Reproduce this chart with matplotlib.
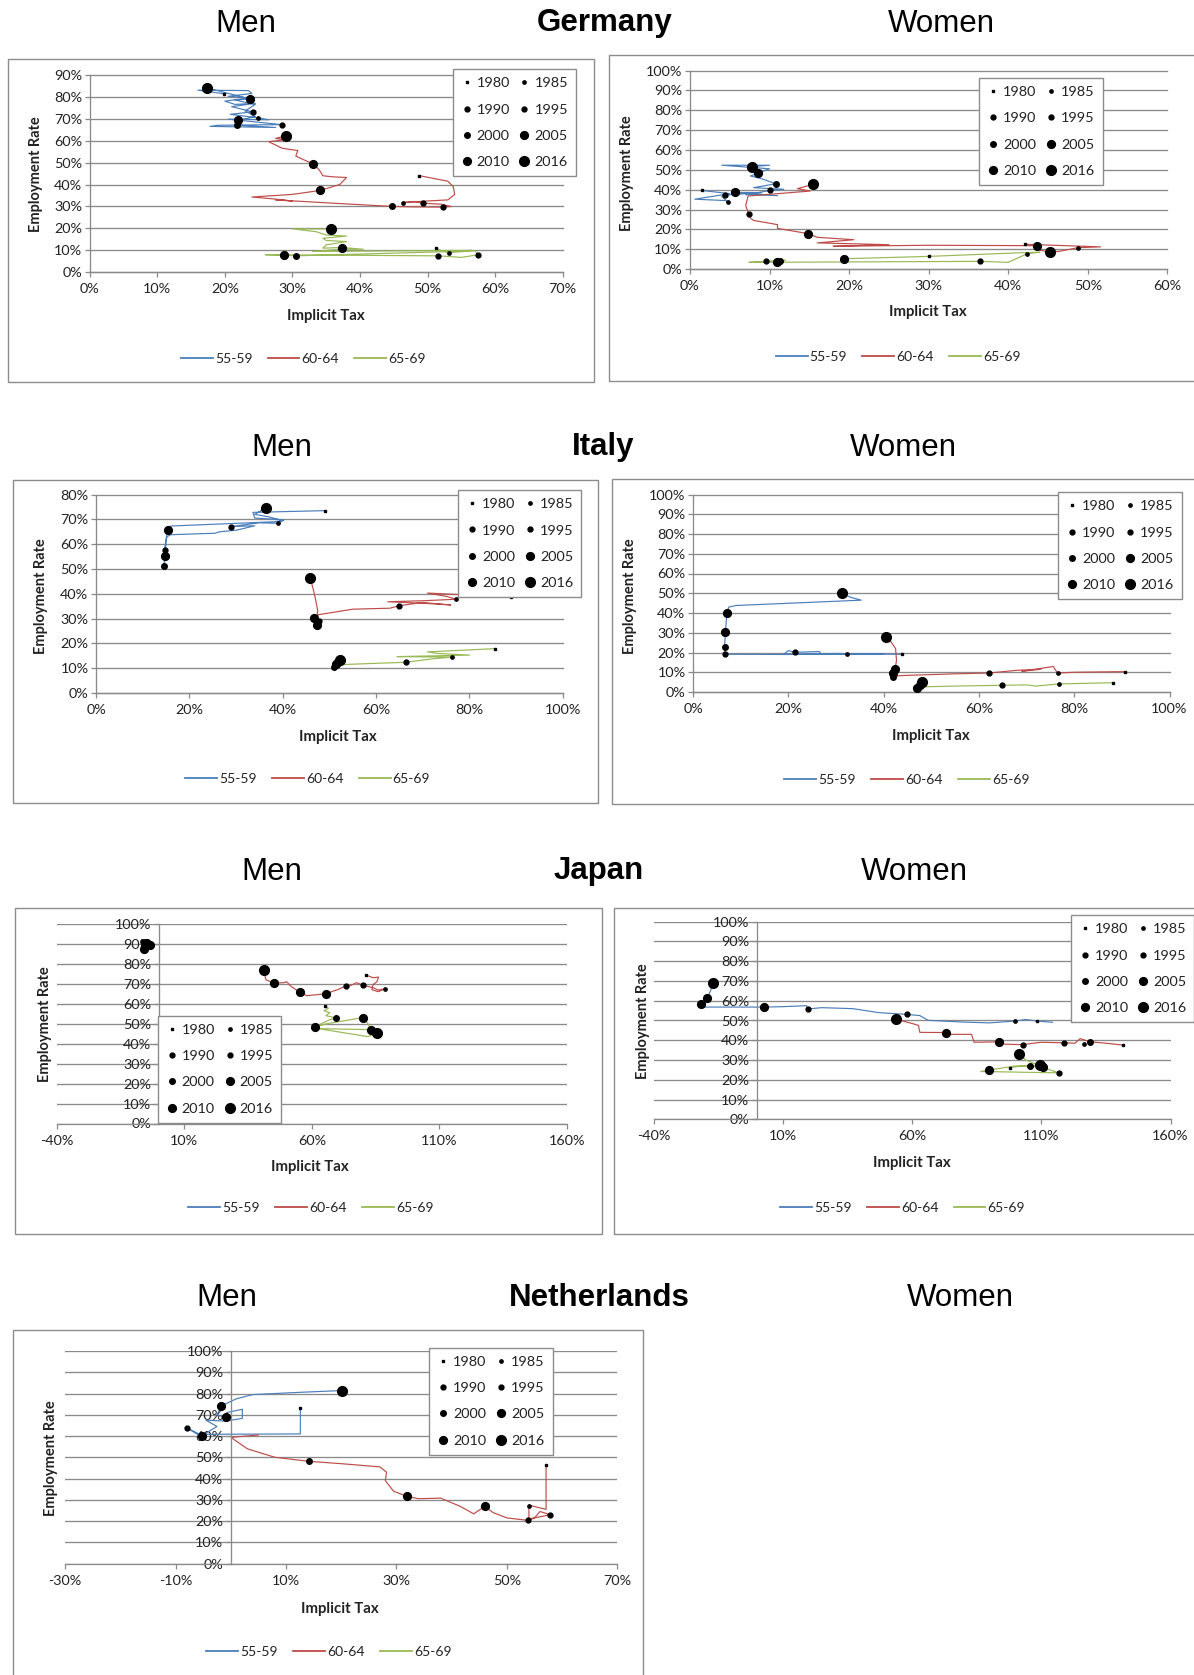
import numpy as np
import matplotlib
matplotlib.use("Agg")
import matplotlib.pyplot as plt
from matplotlib.lines import Line2D
from matplotlib.patches import Rectangle

# ---------------------------------------------------------------------------
# Data: implicit tax on continued work (x, %) vs employment rate (y, %).
# Each series is a trajectory over time plus dots marking selected years.
# ---------------------------------------------------------------------------
YEARS = [1980, 1985, 1990, 1995, 2000, 2005, 2010, 2016]
AGE_GROUPS = ["55-59", "60-64", "65-69"]

# Germany, men
de_m_5559 = [(19.8, 81.4), (16.0, 83.0), (23.5, 82.8), (24.0, 81.5), (20.5, 80.2), (23.5, 79.5),
             (20.0, 78.0), (21.5, 76.5), (24.5, 77.0), (21.0, 75.5), (24.1, 73.1), (20.8, 72.0),
             (24.9, 70.4), (26.5, 69.5), (20.5, 69.8), (28.4, 67.3), (19.0, 67.0), (17.8, 66.5),
             (27.5, 66.0), (21.8, 67.1), (22.0, 69.2), (24.5, 71.0), (23.0, 73.5), (24.5, 76.5),
             (21.5, 78.5), (23.7, 79.0), (17.4, 84.0)]
de_m_5559_yrs = [(1980, 19.8, 81.4), (1985, 24.9, 70.4), (1990, 24.1, 73.1), (1995, 28.4, 67.3),
                 (2000, 21.8, 67.1), (2005, 22.0, 69.2), (2010, 23.7, 79.0), (2016, 17.4, 84.0)]
de_m_6064 = [(48.7, 44.1), (50.5, 43.0), (53.0, 41.5), (53.8, 39.0), (54.0, 35.5), (53.0, 33.0),
             (50.0, 32.5), (46.4, 31.8), (48.0, 32.2), (49.3, 31.5), (52.0, 31.0), (53.5, 30.0),
             (52.3, 29.7), (48.0, 29.8), (44.8, 30.0), (36.0, 31.5), (27.5, 33.0), (30.0, 32.5),
             (27.0, 33.5), (24.0, 34.3), (30.0, 35.5), (34.1, 37.3), (37.0, 40.0), (38.0, 43.2),
             (36.0, 43.5), (34.5, 44.0), (34.0, 46.5), (33.1, 49.4), (31.5, 51.5), (30.5, 53.0),
             (30.8, 55.5), (28.5, 56.5), (27.5, 58.0), (26.5, 59.5), (29.0, 60.5), (27.5, 61.0),
             (29.0, 62.2)]
de_m_6064_yrs = [(1980, 48.7, 44.1), (1985, 46.4, 31.8), (1990, 49.3, 31.5), (1995, 52.3, 29.7),
                 (2000, 44.8, 30.0), (2005, 34.1, 37.3), (2010, 33.1, 49.4), (2016, 29.0, 62.2)]
de_m_6569 = [(51.2, 11.0), (52.0, 10.0), (53.1, 9.0), (57.0, 9.8), (57.5, 8.0), (55.0, 6.8),
             (51.6, 7.5), (26.0, 8.0), (28.8, 7.8), (30.5, 7.5), (54.0, 9.5), (56.5, 10.0),
             (33.0, 9.5), (37.0, 10.5), (40.5, 10.5), (37.3, 11.3), (34.5, 11.0), (35.0, 12.5),
             (38.0, 14.0), (35.0, 14.5), (34.5, 15.5), (38.0, 16.5), (35.0, 17.0), (33.5, 18.5),
             (30.0, 19.8), (35.7, 19.7)]
de_m_6569_yrs = [(1980, 51.2, 11.0), (1985, 53.1, 9.0), (1990, 57.5, 8.0), (1995, 51.6, 7.5),
                 (2000, 30.5, 7.5), (2005, 28.8, 7.8), (2010, 37.3, 11.3), (2016, 35.7, 19.7)]

# Germany, women
de_w_5559 = [(1.45, 39.6), (5.0, 38.0), (0.6, 35.2), (4.5, 34.5), (4.8, 33.7), (4.0, 36.5),
             (4.4, 37.3), (9.0, 38.5), (5.7, 38.6), (11.0, 37.0), (7.0, 37.5), (10.1, 39.6),
             (11.8, 40.2), (8.0, 41.0), (10.8, 43.0), (9.0, 45.5), (7.6, 46.9), (8.5, 48.2),
             (10.0, 50.5), (4.0, 52.3), (10.0, 52.3), (7.8, 51.6)]
de_w_5559_yrs = [(1980, 1.45, 39.6), (1985, 4.8, 33.7), (1990, 4.4, 37.3), (1995, 10.1, 39.6),
                 (2000, 10.8, 43.0), (2005, 5.7, 38.6), (2010, 8.5, 48.2), (2016, 7.8, 51.6)]
de_w_6064 = [(42.1, 12.5), (51.6, 11.2), (48.8, 10.8), (46.5, 9.0), (45.3, 8.6), (44.0, 9.5),
             (43.6, 11.8), (30.0, 12.0), (18.0, 11.5), (25.0, 12.3), (16.0, 13.2), (20.6, 14.8),
             (16.0, 16.0), (14.8, 17.9), (11.0, 20.5), (11.0, 22.4), (8.0, 24.5), (7.5, 26.0),
             (7.4, 27.5), (7.0, 32.0), (7.3, 36.8), (15.1, 39.3), (13.5, 40.5), (15.5, 42.7)]
de_w_6064_yrs = [(1980, 42.1, 12.5), (1985, 48.8, 10.8), (1995, 7.4, 27.5), (2005, 14.8, 17.9),
                 (2010, 43.6, 11.8), (2016, 45.3, 8.6), (2016, 15.5, 42.7)]
de_w_6569 = [(19.3, 5.2), (30.0, 6.4), (42.0, 8.3), (44.0, 8.5), (42.4, 7.8), (40.0, 3.4),
             (36.5, 3.9), (7.4, 3.4), (9.6, 4.0), (12.0, 4.4), (11.3, 4.2), (10.9, 3.5)]
de_w_6569_yrs = [(1980, 30.0, 6.4), (1985, 42.4, 7.8), (1990, 36.5, 3.9), (1995, 9.6, 4.0),
                 (2000, 11.3, 4.2), (2005, 10.9, 3.5), (2010, 19.3, 5.2)]

# Italy, men
it_m_5559 = [(49.1, 73.5), (33.6, 72.8), (34.0, 70.5), (40.3, 69.8), (39.0, 68.4), (35.0, 68.6),
             (28.9, 67.1), (34.0, 67.4), (30.0, 65.6), (26.5, 65.0), (25.5, 64.4), (16.0, 63.8),
             (15.2, 63.0), (14.8, 60.0), (14.7, 57.8), (14.6, 51.2), (14.8, 55.2), (15.0, 62.0),
             (15.3, 65.5), (16.0, 67.3), (38.0, 69.0), (40.0, 69.5), (37.0, 71.0), (34.0, 72.0),
             (36.4, 74.7)]
it_m_5559_yrs = [(1980, 49.1, 73.5), (1985, 39.0, 68.4), (1990, 28.9, 67.1), (1995, 14.7, 57.8),
                 (2000, 14.6, 51.2), (2005, 14.8, 55.2), (2010, 15.3, 65.5), (2016, 36.4, 74.7)]
it_m_6064 = [(88.9, 38.7), (80.0, 39.5), (71.0, 40.3), (75.0, 39.0), (77.1, 37.8), (70.0, 37.2),
             (62.5, 36.8), (72.0, 36.0), (76.0, 35.5), (70.0, 36.5), (64.9, 35.2), (63.0, 34.2),
             (55.0, 33.8), (47.7, 31.6), (47.0, 30.5), (47.7, 29.2), (47.3, 27.3), (47.0, 28.5),
             (47.5, 33.0), (47.0, 38.0), (46.5, 42.0), (45.9, 46.4)]
it_m_6064_yrs = [(1980, 88.9, 38.7), (1985, 77.1, 37.8), (1990, 64.9, 35.2), (1995, 47.7, 29.2),
                 (2005, 46.7, 30.2), (2010, 47.3, 27.3), (2016, 45.9, 46.4)]
it_m_6569 = [(85.4, 17.9), (71.0, 16.6), (73.0, 16.0), (80.0, 15.3), (64.5, 14.7), (70.0, 14.6),
             (76.3, 14.5), (72.0, 13.8), (66.3, 12.4), (60.0, 12.0), (53.0, 11.5), (51.1, 10.8),
             (51.5, 12.1), (52.1, 13.0)]
it_m_6569_yrs = [(1980, 85.4, 17.9), (1985, 76.3, 14.5), (1990, 66.3, 12.4), (2000, 51.0, 10.5),
                 (2005, 51.5, 11.6), (2010, 51.9, 12.4), (2016, 52.3, 13.2)]

# Italy, women
it_w_5559 = [(43.8, 19.1), (32.3, 19.3), (27.0, 19.0), (26.5, 20.5), (21.3, 20.1), (20.0, 21.0),
             (19.0, 19.0), (30.0, 19.5), (40.0, 19.3), (20.0, 19.0), (6.7, 19.1), (6.6, 22.7),
             (6.8, 30.6), (7.1, 40.1), (7.5, 43.0), (9.0, 43.8), (35.3, 46.5), (33.0, 48.0),
             (31.3, 50.1)]
it_w_5559_yrs = [(1980, 43.8, 19.1), (1985, 32.3, 19.3), (1990, 21.3, 20.1), (1995, 6.7, 19.1),
                 (2000, 6.6, 22.7), (2005, 6.8, 30.6), (2010, 7.1, 40.1), (2016, 31.3, 50.1)]
it_w_6064 = [(90.7, 10.3), (80.0, 10.0), (76.5, 9.6), (75.6, 12.9), (69.0, 10.5), (73.0, 11.5),
             (68.0, 11.0), (62.1, 9.6), (55.0, 9.2), (43.5, 8.3), (41.9, 7.6), (42.0, 9.5),
             (42.4, 11.7), (42.7, 16.0), (42.5, 22.0), (41.5, 25.5), (40.5, 27.6)]
it_w_6064_yrs = [(1980, 90.7, 10.3), (1985, 76.5, 9.6), (1990, 62.1, 9.6), (2000, 41.9, 7.6),
                 (2005, 42.0, 9.5), (2010, 42.4, 11.7), (2016, 40.5, 27.6)]
it_w_6569 = [(88.1, 4.7), (76.9, 4.1), (72.0, 3.0), (70.0, 3.6), (64.9, 3.4), (55.0, 3.0),
             (48.0, 2.6), (47.0, 2.2), (47.6, 3.6), (48.1, 4.9)]
it_w_6569_yrs = [(1980, 88.1, 4.7), (1985, 76.9, 4.1), (1990, 64.9, 3.4), (2005, 47.0, 2.2),
                 (2010, 47.6, 3.6), (2016, 48.1, 4.9)]

# Japan, men
jp_m_5559 = [(-4.5, 90.0), (-6.0, 91.0), (-5.5, 88.5), (-4.0, 90.5), (-5.8, 87.5), (-3.5, 89.5),
             (-4.2, 88.7), (-5.0, 89.8)]
jp_m_5559_yrs = [(1980, -4.5, 90.0), (1990, -6.0, 91.0), (1995, -5.5, 88.5), (2000, -4.0, 90.5),
                 (2005, -5.8, 87.5), (2010, -3.5, 89.5), (2016, -5.0, 89.8)]
jp_m_6064 = [(81.4, 74.2), (84.0, 73.0), (86.1, 73.3), (85.5, 71.0), (84.0, 69.5), (83.5, 67.0),
             (86.0, 66.0), (88.7, 67.5), (86.0, 66.8), (84.0, 68.0), (80.2, 69.2), (77.5, 70.5),
             (75.0, 69.0), (73.3, 68.8), (70.0, 67.0), (65.5, 65.0), (62.0, 64.5), (58.0, 64.0),
             (55.4, 65.7), (52.0, 68.5), (50.1, 71.0), (49.0, 70.5), (45.1, 70.3), (42.0, 72.0),
             (41.1, 76.7)]
jp_m_6064_yrs = [(1980, 81.4, 74.2), (1985, 88.7, 67.5), (1990, 80.2, 69.2), (1995, 73.3, 68.8),
                 (2005, 65.5, 65.0), (2010, 55.4, 65.7), (2010, 45.1, 70.3), (2016, 41.1, 76.7)]
jp_m_6569 = [(65.1, 58.7), (66.5, 57.8), (64.8, 56.5), (67.0, 55.5), (65.5, 54.0), (69.6, 52.8),
             (67.0, 52.0), (61.1, 48.3), (66.0, 50.0), (79.9, 53.0), (82.0, 50.0), (83.1, 47.0),
             (62.5, 47.5), (82.0, 43.5), (85.4, 45.3)]
jp_m_6569_yrs = [(1980, 65.1, 58.7), (2000, 69.6, 52.8), (2005, 61.1, 48.3), (2010, 79.9, 53.0),
                 (2010, 83.1, 47.0), (2016, 85.4, 45.3)]

# Japan, women
jp_w_5559 = [(114.3, 49.1), (108.5, 49.7), (104.0, 50.5), (99.8, 49.7), (90.0, 48.8), (80.0, 49.2),
             (66.2, 50.1), (63.0, 52.5), (57.9, 53.1), (47.0, 54.0), (37.1, 56.0), (25.0, 56.5),
             (19.6, 55.8), (19.2, 57.5), (10.0, 57.0), (2.9, 56.8), (-20.9, 56.8), (-21.8, 58.2),
             (-19.2, 61.2), (-18.0, 65.0), (-16.9, 69.1)]
jp_w_5559_yrs = [(1980, 108.5, 49.7), (1985, 99.8, 49.7), (1990, 57.9, 53.1), (1995, 19.6, 55.8),
                 (2005, 2.9, 56.8), (2010, -21.8, 58.2), (2010, -19.2, 61.2), (2016, -16.9, 69.1)]
jp_w_6064 = [(141.5, 37.6), (135.0, 38.5), (129.0, 39.2), (125.0, 40.8), (123.0, 38.5),
             (118.6, 38.7), (110.0, 39.0), (102.8, 37.8), (96.0, 38.0), (93.8, 39.2), (84.0, 39.0),
             (83.0, 43.0), (75.0, 43.0), (73.0, 43.9), (63.0, 44.0), (62.5, 47.5), (60.0, 48.5),
             (53.9, 50.6)]
jp_w_6064_yrs = [(1980, 141.5, 37.6), (1985, 126.4, 38.3), (2000, 129.0, 39.2), (1995, 118.6, 38.7),
                 (1995, 102.8, 37.8), (2005, 93.8, 39.2), (2010, 73.0, 43.9), (2016, 53.9, 50.6)]
jp_w_6569 = [(97.8, 26.2), (104.0, 27.2), (110.0, 26.5), (116.7, 23.5), (86.6, 24.2), (89.7, 24.9),
             (100.0, 27.0), (105.7, 26.9), (109.5, 27.4), (110.5, 26.6), (104.0, 30.0),
             (101.4, 33.1)]
jp_w_6569_yrs = [(1980, 97.8, 26.2), (1990, 116.7, 23.5), (2000, 105.7, 26.9), (2005, 89.7, 24.9),
                 (2010, 110.5, 26.6), (2016, 109.5, 27.4), (2016, 101.4, 33.1)]

# Netherlands, men
nl_m_5559 = [(12.6, 73.0), (12.6, 61.0), (-6.0, 60.8), (-7.9, 63.75), (-5.2, 60.2), (-2.5, 64.5),
             (-4.5, 67.5), (-1.0, 67.0), (2.1, 68.3), (2.1, 72.6), (-0.8, 71.0), (-0.8, 68.75),
             (-2.5, 70.0), (-1.7, 74.2), (1.0, 77.5), (4.0, 79.5), (12.0, 80.5), (20.1, 81.4)]
nl_m_5559_yrs = [(1980, 12.6, 73.0), (1990, -7.9, 63.75), (2005, -5.2, 60.2), (2010, -0.8, 68.75),
                 (2010, -1.7, 74.2), (2016, 20.1, 81.4)]
nl_m_6064 = [(57.1, 46.4), (57.1, 25.5), (54.0, 27.5), (54.0, 26.9), (54.0, 21.0), (57.9, 23.0),
             (56.0, 24.5), (55.0, 21.5), (53.9, 20.3), (50.0, 21.5), (47.5, 24.0), (46.0, 26.9),
             (44.0, 23.4), (41.5, 27.0), (38.0, 30.8), (34.0, 30.5), (32.0, 31.6), (29.5, 34.0),
             (28.0, 39.0), (28.2, 43.0), (27.0, 45.5), (20.0, 47.0), (14.2, 48.1), (8.0, 50.0),
             (3.0, 54.0), (0.5, 58.5), (0.2, 59.4), (5.0, 60.5)]
nl_m_6064_yrs = [(1980, 57.1, 46.4), (1985, 54.0, 26.9), (1990, 57.9, 23.0), (1995, 53.9, 20.3),
                 (2000, 14.2, 48.1), (2005, 46.0, 26.9), (2010, 32.0, 31.6)]
nl_m_6569 = []
nl_m_6569_yrs = []

# ---------------------------------------------------------------------------
# Styling
# ---------------------------------------------------------------------------
plt.rcParams["font.family"] = ["Lato", "DejaVu Sans"]
W, H = 1194, 1675
SERIES_COLORS = ["#4a7ebb", "#be4b48", "#98b954"]
GRID = "#8a8a8a"
BORDER = "#8c8c8c"
TEXT = "#222222"
MARKER_SIZE = {1980: 1.7, 1985: 2.4, 1990: 3.5, 1995: 3.5, 2000: 4.0, 2005: 5.6, 2010: 5.6, 2016: 7.0}
MARKER_SHAPE = {1980: "s"}

fig = plt.figure(figsize=(W / 100, H / 100), dpi=100)
fig.patch.set_facecolor("white")


def fxy(x, y):
    return x / W, 1 - y / H


def draw_panel(box, rect, xlim, xstep, ymax, series, ylab_xy, xlab_xy, yrleg_xy, lineleg_xy,
               yaxis_at_zero=False):
    bx0, by0, bx1, by1 = box
    fig.patches.append(Rectangle((bx0 / W, 1 - by1 / H), (bx1 - bx0) / W, (by1 - by0) / H,
                                 transform=fig.transFigure, fill=False, edgecolor=BORDER,
                                 lw=1.0, zorder=0))
    x0, x1, yt, yb = rect
    ax = fig.add_axes([x0 / W, 1 - yb / H, (x1 - x0) / W, (yb - yt) / H])
    ax.set_facecolor("none")
    ax.set_xlim(*xlim)
    ax.set_ylim(0, ymax)
    xt = np.arange(xlim[0], xlim[1] + 0.01, xstep)
    ax.set_xticks(xt)
    ax.set_xticklabels([f"{v:g}%" for v in xt])
    ytk = np.arange(0, ymax + 0.01, 10)
    ax.set_yticks(ytk)
    ax.set_yticklabels([f"{v:g}%" for v in ytk])
    ax.grid(axis="y", color=GRID, lw=0.95)
    ax.grid(axis="x", visible=False)
    ax.set_axisbelow(True)
    for gl in ax.get_ygridlines():
        gl.set_clip_on(False)
    for s in ("top", "right"):
        ax.spines[s].set_visible(False)
    for s in ("left", "bottom"):
        ax.spines[s].set_color(GRID)
        ax.spines[s].set_linewidth(0.95)
    if yaxis_at_zero:
        ax.spines["left"].set_position(("data", 0))
    ax.tick_params(axis="both", direction="out", length=3.5, width=0.9, color=GRID,
                   labelsize=10.4, labelcolor=TEXT)
    ax.tick_params(axis="x", pad=4.5)
    ax.tick_params(axis="y", pad=2.0)

    for (path, yrs), color in zip(series, SERIES_COLORS):
        if path:
            xs, ys = zip(*path)
            ax.plot(xs, ys, color=color, lw=0.85, solid_joinstyle="round", zorder=2)
        for yr, x, y in yrs:
            ax.plot([x], [y], ls="", marker=MARKER_SHAPE.get(yr, "o"), ms=MARKER_SIZE[yr],
                    color="black", zorder=3)

    fig.text(*fxy(*ylab_xy), "Employment Rate", rotation=90, ha="center", va="center",
             fontsize=10.5, fontweight="bold", color=TEXT)
    fig.text(*fxy(*xlab_xy), "Implicit Tax", ha="center", va="center",
             fontsize=10.8, fontweight="bold", color=TEXT)

    order = [1980, 1990, 2000, 2010, 1985, 1995, 2005, 2016]
    yr_handles = [Line2D([], [], ls="", marker=MARKER_SHAPE.get(y, "o"), ms=MARKER_SIZE[y],
                         color="black") for y in order]
    leg = ax.legend(yr_handles, [str(y) for y in order], ncol=2, loc="upper left",
                    bbox_to_anchor=fxy(*yrleg_xy), bbox_transform=fig.transFigure,
                    borderaxespad=0, frameon=True, fancybox=False, edgecolor=BORDER,
                    framealpha=1, fontsize=10.4, handlelength=0.8, handletextpad=0.3,
                    columnspacing=0.6, labelspacing=0.98, borderpad=0.55)
    leg.get_frame().set_linewidth(1.0)
    for t in leg.get_texts():
        t.set_color(TEXT)
    leg.set_zorder(5)

    ln_handles = [Line2D([0], [0], color=c, lw=1.3) for c in SERIES_COLORS]
    lleg = fig.legend(ln_handles, AGE_GROUPS, loc="center", bbox_to_anchor=fxy(*lineleg_xy),
                      ncol=3, frameon=False, fontsize=10, handlelength=2.3,
                      handletextpad=0.15, columnspacing=1.1)
    for t in lleg.get_texts():
        t.set_color(TEXT)
    return ax


# Row titles
title_rows = [
    (23.5, "Germany", 245.6, 604.5, 941.0),
    (447.5, "Italy", 282.0, 603.4, 903.5),
    (871.5, "Japan", 272.3, 599.0, 914.0),
    (1297.6, "Netherlands", 226.4, 599.0, 960.0),
]
for y, country, xm, xc, xw in title_rows:
    fig.text(*fxy(xm, y), "Men", ha="center", va="center", fontsize=22.5,
             family="Liberation Sans")
    fig.text(*fxy(xc, y), country, ha="center", va="center", fontsize=22.5,
             family="Liberation Sans", fontweight="bold")
    fig.text(*fxy(xw, y), "Women", ha="center", va="center", fontsize=22.5,
             family="Liberation Sans")

# Germany
draw_panel((7.5, 58.7, 593.8, 382.3), (89.7, 562.8, 74.8, 272.3), (0, 70), 10, 90,
           [(de_m_5559, de_m_5559_yrs), (de_m_6064, de_m_6064_yrs), (de_m_6569, de_m_6569_yrs)],
           (36.3, 174), (325.7, 316.1), (452.8, 69.4), (303.3, 358.8))
draw_panel((608.8, 55.5, 1200, 381.3), (690.0, 1167.3, 70.5, 269.1), (0, 60), 10, 100,
           [(de_w_5559, de_w_5559_yrs), (de_w_6064, de_w_6064_yrs), (de_w_6569, de_w_6569_yrs)],
           (627, 173), (928, 311.9), (979.4, 78), (898.2, 356.7))
# Italy
draw_panel((12.8, 479.5, 598, 803.1), (96.1, 562.8, 494.5, 693.1), (0, 100), 20, 80,
           [(it_m_5559, it_m_5559_yrs), (it_m_6064, it_m_6064_yrs), (it_m_6569, it_m_6569_yrs)],
           (40.6, 596), (337.5, 737), (458.2, 490.2), (307.6, 778.6))
draw_panel((612, 479.5, 1200, 804.2), (693.1, 1169.5, 494.5, 692.0), (0, 100), 20, 100,
           [(it_w_5559, it_w_5559_yrs), (it_w_6064, it_w_6064_yrs), (it_w_6569, it_w_6569_yrs)],
           (630, 596), (931.3, 735.9), (1058.4, 492.3), (906.7, 779.6))
# Japan
draw_panel((15, 907.8, 602.4, 1233.5), (56.6, 567.1, 923.8, 1123.5), (-40, 160), 50, 100,
           [(jp_m_5559, jp_m_5559_yrs), (jp_m_6064, jp_m_6064_yrs), (jp_m_6569, jp_m_6569_yrs)],
           (44.9, 1024), (309.7, 1167.3), (158, 1015.7), (310.8, 1208), yaxis_at_zero=True)
draw_panel((614, 907.8, 1200, 1233.5), (653.6, 1170.5, 921.7, 1119.3), (-40, 160), 50, 100,
           [(jp_w_5559, jp_w_5559_yrs), (jp_w_6064, jp_w_6064_yrs), (jp_w_6569, jp_w_6569_yrs)],
           (643, 1021), (912, 1163), (1071.2, 915.3), (902.5, 1208), yaxis_at_zero=True)
# Netherlands
draw_panel((12.8, 1329.7, 643, 1680), (65.1, 617.3, 1351.0, 1563.6), (-30, 70), 20, 100,
           [(nl_m_5559, nl_m_5559_yrs), (nl_m_6064, nl_m_6064_yrs), (nl_m_6569, nl_m_6569_yrs)],
           (51.3, 1458), (339.6, 1609.5), (429.3, 1347.8), (329, 1652.2), yaxis_at_zero=True)

fig.savefig("out.png", dpi=100, facecolor="white")
